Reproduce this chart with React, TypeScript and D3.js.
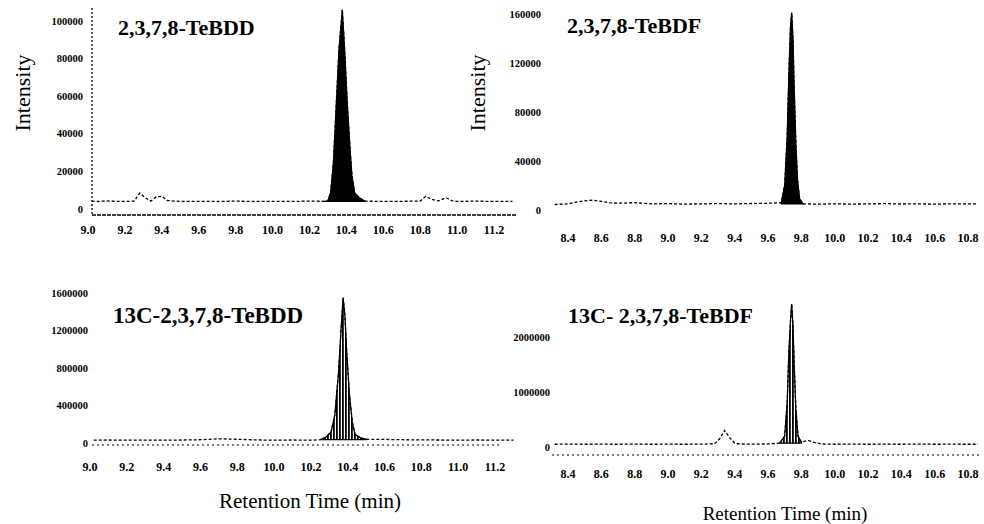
import * as d3 from "d3";

const FONT = "'Liberation Serif', 'DejaVu Serif', serif";

// 2,3,7,8-TeBDD (native) trace
const tebddTime = [9.02, 9.05, 9.1, 9.15, 9.2, 9.25, 9.28, 9.31, 9.34, 9.37, 9.4, 9.43, 9.5, 9.6, 9.7, 9.8, 9.9, 10.0, 10.1, 10.2, 10.28, 10.3, 10.315, 10.33, 10.345, 10.36, 10.378, 10.39, 10.405, 10.42, 10.43, 10.445, 10.47, 10.5, 10.6, 10.7, 10.8, 10.83, 10.86, 10.9, 10.94, 10.97, 11.0, 11.1, 11.2, 11.3];
const tebddInt = [4200, 4000, 4300, 4100, 4000, 4200, 8500, 6000, 4200, 6500, 6800, 4500, 4000, 4100, 4000, 4200, 4000, 4100, 4000, 4200, 4100, 4300, 9000, 25000, 55000, 85000, 106000, 86000, 56000, 32000, 18000, 8500, 6000, 4200, 4000, 4100, 4200, 6800, 5200, 4300, 6000, 4500, 4000, 4200, 4000, 4100];
const tebddPeak = [10.28, 10.5];

// 2,3,7,8-TeBDF (native) trace
const tebdfTime = [8.32, 8.4, 8.45, 8.5, 8.55, 8.6, 8.65, 8.7, 8.8, 8.9, 9.0, 9.1, 9.2, 9.3, 9.4, 9.5, 9.6, 9.68, 9.7, 9.715, 9.725, 9.735, 9.742, 9.75, 9.757, 9.767, 9.777, 9.79, 9.81, 9.9, 10.0, 10.1, 10.2, 10.3, 10.4, 10.5, 10.6, 10.7, 10.8, 10.86];
const tebdfInt = [4500, 5000, 6500, 7500, 8000, 7000, 6000, 5500, 6000, 5000, 5200, 4800, 5000, 5200, 5000, 5300, 5500, 6000, 20000, 60000, 110000, 150000, 161000, 140000, 100000, 55000, 25000, 9000, 5000, 4800, 5000, 4800, 5000, 5200, 4900, 5000, 4800, 5000, 5000, 4900];
const tebdfPeak = [9.68, 9.81];

// 13C-2,3,7,8-TeBDD (labelled standard)
const c13ddTime = [9.02, 9.1, 9.2, 9.3, 9.4, 9.5, 9.6, 9.7, 9.8, 9.9, 10.0, 10.1, 10.2, 10.25, 10.28, 10.31, 10.33, 10.35, 10.365, 10.375, 10.385, 10.395, 10.41, 10.425, 10.44, 10.47, 10.5, 10.6, 10.7, 10.8, 10.9, 11.0, 11.1, 11.2, 11.3];
const c13ddInt = [30000, 32000, 30000, 31000, 30000, 32000, 35000, 45000, 40000, 33000, 30000, 32000, 30000, 35000, 60000, 120000, 300000, 750000, 1250000, 1550000, 1350000, 950000, 500000, 220000, 90000, 55000, 40000, 38000, 35000, 33000, 32000, 30000, 32000, 31000, 30000];
const c13ddPeak = [10.25, 10.5];

// 13C-2,3,7,8-TeBDF (labelled standard)
const c13dfTime = [8.32, 8.4, 8.5, 8.6, 8.7, 8.8, 8.9, 9.0, 9.1, 9.2, 9.28, 9.31, 9.34, 9.37, 9.4, 9.43, 9.5, 9.6, 9.67, 9.7, 9.715, 9.725, 9.735, 9.742, 9.75, 9.757, 9.767, 9.78, 9.8, 9.84, 9.88, 9.92, 10.0, 10.1, 10.2, 10.3, 10.4, 10.5, 10.6, 10.7, 10.8, 10.86];
const c13dfInt = [50000, 52000, 50000, 51000, 50000, 52000, 50000, 51000, 50000, 52000, 60000, 150000, 300000, 170000, 70000, 55000, 52000, 55000, 70000, 200000, 800000, 1700000, 2300000, 2600000, 2200000, 1500000, 700000, 200000, 90000, 120000, 80000, 55000, 50000, 52000, 50000, 51000, 50000, 52000, 50000, 51000, 50000, 50000];
const c13dfPeak = [9.67, 9.8];

const xTicksDD = [9.0, 9.2, 9.4, 9.6, 9.8, 10.0, 10.2, 10.4, 10.6, 10.8, 11.0, 11.2];
const xTicksDF = [8.4, 8.6, 8.8, 9.0, 9.2, 9.4, 9.6, 9.8, 10.0, 10.2, 10.4, 10.6, 10.8];
const yTicksTebdd = [0, 20000, 40000, 60000, 80000, 100000];
const yTicksTebdf = [0, 40000, 80000, 120000, 160000];
const yTicks13dd = [0, 400000, 800000, 1200000, 1600000];
const yTicks13df = [0, 1000000, 2000000];

const panels = [
  {
    id: "a", title: "2,3,7,8-TeBDD", titleX: 118, titleY: 35, titleSize: 22,
    times: tebddTime, values: tebddInt, peak: tebddPeak, fill: "solid",
    xTicks: xTicksDD, xDomain: [9.0, 11.2], xRange: [88, 494], xLabelY: 230,
    yTicks: yTicksTebdd, yDomain: [0, 100000], yRange: [209, 21], yLabelX: 83,
    yAxisX: 92, xAxisY: 215, xAxisEnd: 516,
  },
  {
    id: "b", title: "2,3,7,8-TeBDF", titleX: 567, titleY: 33, titleSize: 22,
    times: tebdfTime, values: tebdfInt, peak: tebdfPeak, fill: "solid",
    xTicks: xTicksDF, xDomain: [8.4, 10.8], xRange: [568, 968], xLabelY: 238,
    yTicks: yTicksTebdf, yDomain: [0, 160000], yRange: [210, 14], yLabelX: 541,
  },
  {
    id: "c", title: "13C-2,3,7,8-TeBDD", titleX: 113, titleY: 323, titleSize: 23,
    times: c13ddTime, values: c13ddInt, peak: c13ddPeak, fill: "striped",
    xTicks: xTicksDD, xDomain: [9.0, 11.2], xRange: [90, 495], xLabelY: 467,
    yTicks: yTicks13dd, yDomain: [0, 1600000], yRange: [443, 293], yLabelX: 88,
    lowerLineY: 445, lowerStart: 92, lowerEnd: 500,
  },
  {
    id: "d", title: "13C- 2,3,7,8-TeBDF", titleX: 568, titleY: 323, titleSize: 22,
    times: c13dfTime, values: c13dfInt, peak: c13dfPeak, fill: "striped",
    xTicks: xTicksDF, xDomain: [8.4, 10.8], xRange: [568, 968], xLabelY: 474,
    yTicks: yTicks13df, yDomain: [0, 2000000], yRange: [447, 337], yLabelX: 550,
    lowerLineY: 455, lowerStart: 552, lowerEnd: 982,
  },
];

function Chromatogram({ p }: { p: any }) {
  const x = d3.scaleLinear().domain(p.xDomain).range(p.xRange);
  const y = d3.scaleLinear().domain(p.yDomain).range(p.yRange);
  const pts: [number, number][] = p.times.map((t: number, i: number) => [t, p.values[i]]);
  const peakPts = pts.filter((d) => d[0] >= p.peak[0] && d[0] <= p.peak[1]);
  const base = Math.min(peakPts[0][1], peakPts[peakPts.length - 1][1]);
  const line = d3.line<[number, number]>().x((d) => x(d[0])).y((d) => y(d[1]));
  const area = d3
    .area<[number, number]>()
    .x((d) => x(d[0]))
    .y0(y(base))
    .y1((d) => y(d[1]));
  const fmtX = d3.format(".1f");

  return (
    <g>
      <defs>
        <pattern id={`hatch-${p.id}`} width={3} height={4} patternUnits="userSpaceOnUse">
          <rect x={0} y={0} width={1.8} height={4} fill="#000" />
        </pattern>
      </defs>
      {p.yAxisX !== undefined && (
        <line x1={p.yAxisX} x2={p.yAxisX} y1={8} y2={p.xAxisY} stroke="#000" strokeWidth={1.3} strokeDasharray="2,2" />
      )}
      {p.xAxisY !== undefined && (
        <line x1={p.yAxisX} x2={p.xAxisEnd} y1={p.xAxisY} y2={p.xAxisY} stroke="#000" strokeWidth={1.6} strokeDasharray="4,1" />
      )}
      {p.lowerLineY !== undefined && (
        <line x1={p.lowerStart} x2={p.lowerEnd} y1={p.lowerLineY} y2={p.lowerLineY} stroke="#000" strokeWidth={1} strokeDasharray="2,3" />
      )}
      <path d={line(pts) || ""} fill="none" stroke="#000" strokeWidth={1.3} strokeDasharray="3,2" />
      <path
        d={area(peakPts) || ""}
        fill={p.fill === "solid" ? "#000" : `url(#hatch-${p.id})`}
        stroke="#000"
        strokeWidth={1.2}
      />
      {p.yTicks.map((v: number) => (
        <text key={v} x={p.yLabelX} y={y(v)} dy="0.35em" textAnchor="end" fontFamily={FONT} fontSize={10.5} fontWeight="bold">
          {v}
        </text>
      ))}
      {p.xTicks.map((v: number) => (
        <text key={v} x={x(v)} y={p.xLabelY} dy="0.35em" textAnchor="middle" fontFamily={FONT} fontSize={12} fontWeight="bold">
          {fmtX(v)}
        </text>
      ))}
      <text x={p.titleX} y={p.titleY} fontFamily={FONT} fontSize={p.titleSize} fontWeight="bold">
        {p.title}
      </text>
    </g>
  );
}

export default function App() {
  return (
    <svg width={984} height={524} style={{ position: "absolute", left: 0, top: 0, background: "#fff" }}>
      <rect width={984} height={524} fill="#fff" />
      {panels.map((p) => (
        <Chromatogram key={p.id} p={p} />
      ))}
      <text transform="translate(30,93) rotate(-90)" textAnchor="middle" fontFamily={FONT} fontSize={22}>
        Intensity
      </text>
      <text transform="translate(485,93) rotate(-90)" textAnchor="middle" fontFamily={FONT} fontSize={22}>
        Intensity
      </text>
      <text x={310} y={508} textAnchor="middle" fontFamily={FONT} fontSize={21}>
        Retention Time (min)
      </text>
      <text x={785} y={520} textAnchor="middle" fontFamily={FONT} fontSize={19}>
        Retention Time (min)
      </text>
    </svg>
  );
}
